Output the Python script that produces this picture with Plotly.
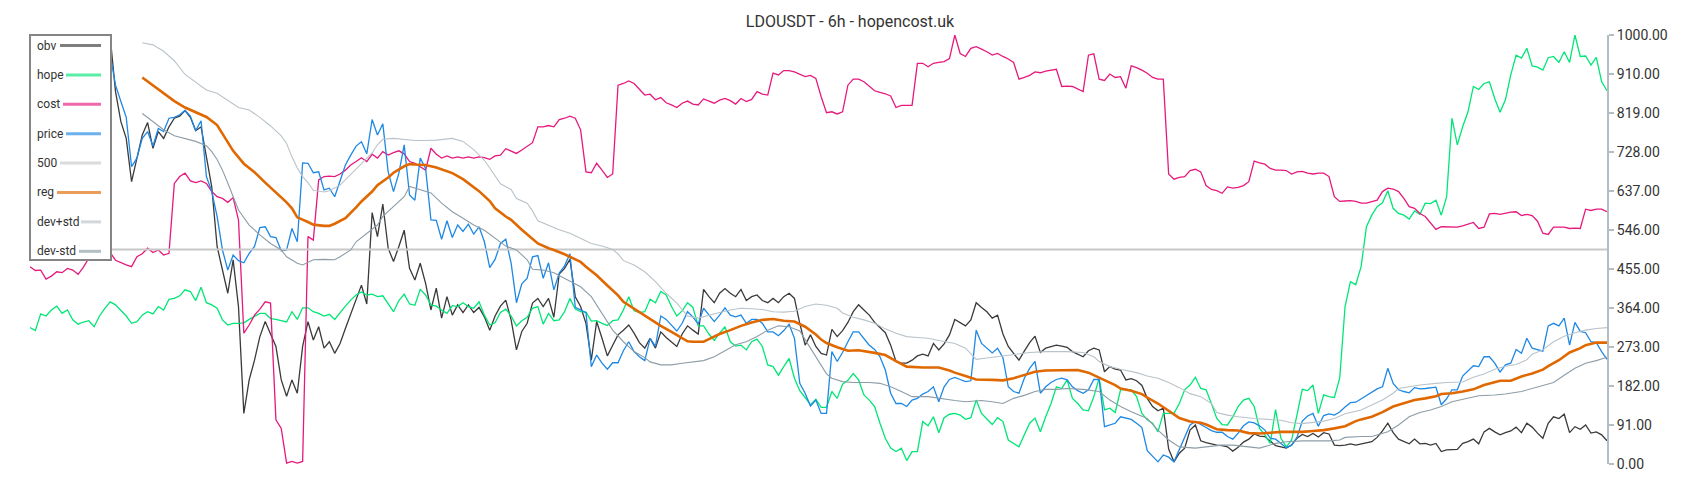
import plotly.graph_objects as go

N = 296
idx = list(range(N))

# ---------------- data ----------------
obv = [
    None, None, None, None, None, None, None, None, None, None,
    None, None, None, None, None, 995, 868, 798, 759, 658,
    713, 767, 796, 736, 775, 759, 786, 806, 811, 824,
    808, 777, 786, 716, 646, 507, 452, 398, 476, 367,
    118, 196, 242, 297, 332, 305, 274, 196, 158, 196,
    165, 274, 332, 289, 320, 270, 285, 258, 281, 316,
    351, 386, 417, 373, 586, 530, 606, 503, 472, 507,
    545, 456, 429, 468, 421, 359, 410, 340, 390, 347,
    371, 353, 371, 353, 365, 343, 312, 345, 368, 382,
    336, 266, 309, 328, 375, 386, 367, 386, 342, 443,
    456, 477, 390, 367, 328, 242, 332, 293, 252, 277,
    301, 312, 324, 305, 283, 270, 293, 270, 308, 295,
    285, 274, 303, 322, 312, 303, 407, 390, 376, 398,
    409, 398, 390, 407, 381, 390, 394, 381, 376, 386,
    376, 390, 398, 386, 328, 277, 301, 274, 258, 254,
    314, 297, 311, 330, 355, 371, 359, 347, 330, 319,
    306, 277, 239, 235, 235, 242, 252, 256, 252, 281,
    266, 280, 301, 337, 330, 322, 336, 376, 365, 355,
    340, 347, 303, 274, 258, 242, 263, 283, 298, 260,
    270, 273, 277, 275, 272, 262, 256, 250, 264, 270,
    266, 215, 227, 221, 219, 196, 199, 194, 183, 153,
    134, 124, 130, 35, 5, 25, 37, 79, 91, 54,
    50, 47, 44, 43, 40, 30, 39, 51, 58, 70,
    65, 64, 54, 43, 40, 37, 44, 60, 69, 64,
    71, 63, 73, 70, 44, 43, 44, 47, 44, 47,
    50, 52, 62, 77, 95, 73, 58, 52, 47, 58,
    47, 48, 44, 48, 29, 33, 34, 34, 48, 52,
    58, 47, 75, 83, 75, 68, 73, 77, 86, 73,
    95, 86, 72, 60, 95, 110, 106, 116, 73, 87,
    81, 91, 72, 75, 68, 54,
]

hope = [
    318, 311, 350, 345, 359, 368, 351, 359, 336, 326,
    331, 334, 320, 345, 363, 378, 371, 359, 345, 328,
    332, 347, 355, 350, 367, 359, 384, 386, 392, 406,
    402, 381, 412, 376, 371, 363, 336, 324, 328, 328,
    329, 337, 345, 351, 351, 339, 337, 334, 331, 355,
    337, 364, 364, 355, 351, 345, 349, 337, 353, 368,
    382, 394, 401, 394, 396, 390, 392, 373, 355, 381,
    396, 373, 370, 407, 394, 371, 368, 359, 351, 369,
    367, 376, 367, 363, 378, 347, 324, 329, 353, 361,
    345, 322, 334, 342, 363, 367, 326, 351, 334, 336,
    355, 386, 361, 355, 354, 333, 334, 328, 323, 334,
    336, 359, 390, 357, 353, 355, 384, 376, 402, 394,
    367, 345, 357, 376, 365, 322, 322, 303, 288, 305,
    320, 285, 275, 277, 266, 285, 291, 274, 231, 227,
    207, 227, 246, 200, 171, 155, 138, 151, 132, 132,
    169, 153, 186, 195, 211, 196, 161, 149, 134, 95,
    60, 37, 29, 37, 8, 29, 29, 99, 89, 110,
    73, 108, 116, 118, 114, 104, 108, 149, 118, 105,
    92, 108, 99, 56, 48, 40, 68, 95, 107, 75,
    110, 141, 180, 176, 196, 153, 141, 126, 124, 157,
    200, 126, 130, 120, 173, 174, 173, 157, 118, 103,
    95, 75, 118, 118, 118, 141, 173, 184, 202, 176,
    173, 141, 106, 92, 91, 110, 134, 149, 153, 134,
    83, 68, 48, 127, 60, 40, 56, 114, 174, 171,
    184, 118, 161, 157, 155, 200, 367, 425, 418, 460,
    553, 580, 600, 609, 637, 596, 584, 580, 571, 590,
    582, 608, 607, 615, 580, 623, 806, 744, 786, 821,
    880, 873, 887, 891, 852, 820, 849, 907, 953, 946,
    969, 928, 925, 918, 947, 950, 936, 961, 936, 1000,
    950, 951, 930, 948, 891, 870,
]

cost = [
    460, 451, 452, 431, 438, 448, 446, 456, 452, 442,
    459, 480, 490, 495, 495, 493, 475, 469, 464, 460,
    483, 490, 503, 493, 499, 487, 491, 654, 670, 678,
    660, 656, 660, 654, 635, 623, 619, 610, 621, 569,
    305, 324, 347, 361, 378, 375, 103, 83, 2, 6,
    2, 6, 530, 522, 662, 670, 671, 670, 676, 685,
    697, 705, 714, 705, 722, 713, 728, 720, 726, 730,
    723, 705, 701, 693, 685, 736, 722, 713, 718, 713,
    716, 713, 716, 713, 716, 714, 710, 718, 720, 735,
    730, 724, 732, 741, 749, 786, 786, 789, 786, 803,
    806, 811, 806, 779, 681, 679, 701, 685, 668, 676,
    883, 887, 893, 887, 873, 860, 862, 849, 854, 842,
    837, 831, 841, 846, 839, 837, 851, 846, 841, 848,
    852, 847, 839, 852, 845, 850, 868, 862, 860, 911,
    907, 917, 917, 914, 909, 903, 906, 899, 856, 819,
    821, 816, 821, 883, 897, 897, 891, 880, 870, 866,
    863, 858, 831, 836, 836, 836, 934, 934, 926, 934,
    936, 938, 945, 1000, 957, 950, 969, 973, 967, 961,
    953, 957, 950, 944, 936, 897, 901, 906, 914, 912,
    916, 918, 920, 880, 881, 880, 874, 868, 953, 956,
    897, 894, 909, 901, 903, 876, 928, 924, 918, 911,
    901, 897, 897, 676, 664, 668, 670, 684, 687, 681,
    649, 640, 637, 631, 646, 643, 645, 649, 658, 706,
    702, 699, 689, 685, 685, 684, 676, 681, 682, 678,
    676, 678, 678, 670, 623, 612, 613, 614, 612, 608,
    608, 611, 615, 635, 643, 641, 635, 619, 600, 596,
    584, 577, 561, 547, 553, 553, 553, 552, 555, 559,
    563, 549, 552, 583, 584, 582, 585, 587, 588, 579,
    582, 579, 566, 538, 535, 552, 552, 552, 549, 550,
    549, 594, 591, 594, 594, 588,
]

price = [
    None, None, None, None, None, None, None, None, None, None,
    None, None, None, None, None, 955, 883, 845, 808, 693,
    713, 759, 775, 741, 782, 775, 806, 808, 814, 824,
    811, 777, 800, 670, 635, 577, 499, 452, 487, 474,
    469, 491, 507, 551, 553, 530, 528, 497, 499, 549,
    518, 702, 701, 679, 681, 639, 643, 623, 658, 697,
    720, 741, 751, 723, 803, 767, 793, 681, 635, 678,
    744, 627, 615, 713, 689, 569, 568, 524, 567, 528,
    557, 542, 559, 536, 553, 518, 458, 477, 514, 524,
    468, 376, 420, 433, 483, 486, 433, 469, 406, 445,
    462, 490, 365, 359, 353, 227, 254, 235, 221, 236,
    236, 264, 285, 262, 250, 241, 293, 274, 345, 337,
    324, 310, 328, 355, 343, 326, 363, 347, 332, 347,
    364, 347, 343, 347, 328, 337, 337, 328, 308, 308,
    299, 311, 326, 293, 188, 165, 135, 149, 118, 118,
    262, 239, 260, 285, 308, 308, 293, 277, 267, 250,
    219, 165, 141, 141, 134, 149, 153, 163, 169, 180,
    145, 180, 197, 202, 197, 192, 194, 312, 281, 270,
    259, 270, 248, 180, 169, 165, 200, 223, 239, 165,
    180, 190, 197, 200, 196, 180, 171, 165, 173, 197,
    197, 87, 91, 95, 110, 107, 104, 95, 85, 31,
    17, 5, 21, 16, 5, 33, 64, 91, 99, 91,
    85, 78, 74, 74, 64, 58, 72, 89, 98, 96,
    89, 79, 60, 58, 47, 38, 44, 62, 100, 112,
    118, 88, 113, 117, 114, 121, 133, 143, 144, 152,
    159, 166, 175, 180, 223, 188, 173, 169, 166, 178,
    175, 176, 178, 179, 138, 152, 173, 173, 205, 218,
    229, 227, 250, 250, 235, 214, 231, 235, 267, 258,
    293, 270, 266, 263, 322, 328, 322, 340, 277, 330,
    309, 306, 285, 283, 262, 244,
]

level_idx = [0, N - 1]
level_val = [500, 500]

reg_idx = [21, 23, 25, 27, 29, 31, 33, 35, 36, 38, 40, 42, 44, 46, 48, 49, 50, 52, 53, 55,
           56, 57, 59, 61, 62, 64, 65, 67, 68, 70, 71, 72, 74, 76, 78, 79, 81, 82, 84, 86,
           87, 89, 90, 92, 94, 95, 97, 98, 100, 101, 103, 104, 106, 108, 110, 111, 113, 115, 116, 118,
           120, 122, 123, 124, 126, 127, 129, 131, 133, 135, 137, 139, 141, 143, 145, 147, 148, 149, 151, 153,
           155, 158, 160, 162, 164, 167, 170, 172, 173, 175, 177, 180, 182, 184, 186, 188, 190, 192, 194, 196,
           198, 200, 201, 203, 204, 206, 208, 209, 211, 213, 214, 215, 217, 219, 220, 222, 224, 226, 228, 230,
           232, 234, 236, 238, 240, 242, 244, 246, 248, 249, 251, 253, 255, 257, 259, 261, 263, 264, 266, 268,
           270, 272, 274, 275, 277, 279, 281, 283, 284, 286, 288, 290, 291, 293, 295]
reg_val = [901, 883, 866, 846, 831, 820, 809, 790, 770, 730, 700, 680, 656, 634, 610, 596, 575, 564, 558, 555,
           555, 560, 573, 598, 612, 635, 650, 668, 679, 694, 699, 698, 697, 691, 683, 678, 664, 655, 636, 613,
           596, 577, 569, 546, 526, 514, 503, 499, 489, 483, 471, 460, 440, 416, 393, 378, 362, 346, 336, 322,
           308, 292, 286, 285, 285, 291, 303, 312, 322, 330, 336, 338, 334, 332, 320, 302, 290, 282, 272, 264,
           265, 259, 254, 240, 227, 225, 225, 218, 213, 205, 197, 196, 195, 200, 208, 215, 218, 218, 219, 219,
           213, 202, 196, 184, 176, 171, 163, 155, 141, 124, 116, 107, 99, 96, 92, 81, 79, 78, 72, 71,
           73, 75, 75, 75, 77, 79, 83, 88, 100, 104, 110, 121, 134, 141, 149, 153, 158, 163, 165, 169,
           174, 184, 190, 194, 194, 204, 211, 220, 228, 242, 260, 270, 277, 283, 283]

devp_idx = [21, 23, 25, 27, 29, 31, 33, 35, 37, 39, 41, 43, 45, 47, 48, 49, 50, 51, 52, 53,
            55, 56, 58, 60, 62, 64, 65, 66, 68, 70, 72, 74, 76, 79, 81, 83, 85, 86, 88, 90,
            91, 93, 94, 95, 97, 99, 101, 103, 105, 107, 109, 110, 111, 113, 115, 117, 119, 121, 123, 125,
            127, 129, 131, 133, 135, 137, 139, 141, 143, 145, 147, 149, 151, 152, 154, 156, 158, 160, 162, 164,
            166, 168, 170, 173, 175, 176, 177, 179, 181, 184, 187, 190, 194, 197, 199, 200, 202, 204, 207, 209,
            211, 213, 215, 217, 219, 221, 222, 224, 226, 229, 231, 234, 236, 238, 240, 242, 244, 246, 249, 251,
            253, 255, 256, 258, 260, 263, 265, 268, 270, 272, 274, 276, 278, 280, 281, 283, 285, 287, 289, 291,
            293, 295]
devp_val = [982, 977, 962, 940, 908, 890, 872, 864, 848, 831, 825, 808, 788, 765, 747, 716, 690, 670, 656, 638,
            634, 637, 650, 675, 701, 725, 744, 757, 759, 757, 754, 754, 755, 759, 752, 733, 708, 690, 653, 640,
            619, 608, 590, 567, 557, 546, 538, 526, 514, 508, 500, 490, 474, 464, 448, 425, 398, 375, 345, 340,
            347, 353, 359, 363, 362, 360, 355, 354, 356, 367, 373, 370, 363, 352, 342, 336, 328, 315, 305, 297,
            295, 293, 288, 281, 270, 258, 244, 247, 250, 255, 260, 262, 262, 260, 250, 239, 227, 221, 213, 205,
            200, 190, 178, 164, 157, 141, 120, 114, 110, 106, 104, 102, 96, 94, 97, 100, 106, 117, 126, 138,
            149, 165, 176, 180, 184, 188, 190, 191, 202, 210, 221, 228, 232, 243, 256, 266, 285, 298, 306, 312,
            316, 318]

devm_idx = [21, 23, 25, 27, 29, 31, 33, 34, 35, 36, 37, 38, 39, 41, 43, 45, 47, 48, 50, 51,
            53, 55, 57, 58, 60, 61, 63, 65, 66, 68, 70, 71, 73, 75, 77, 79, 81, 83, 85, 87,
            89, 91, 93, 94, 96, 98, 100, 101, 103, 105, 107, 109, 111, 113, 115, 116, 118, 120, 122, 124,
            126, 128, 130, 132, 134, 136, 138, 140, 142, 144, 145, 147, 149, 150, 152, 154, 157, 159, 161, 163,
            165, 168, 170, 173, 175, 178, 180, 182, 184, 186, 188, 190, 192, 194, 197, 199, 200, 202, 204, 206,
            209, 211, 213, 215, 218, 220, 223, 225, 228, 230, 233, 235, 238, 243, 245, 246, 249, 251, 254, 256,
            258, 260, 262, 264, 266, 269, 271, 274, 276, 279, 281, 283, 285, 287, 289, 291, 293, 295]
devm_val = [817, 798, 779, 765, 759, 752, 742, 728, 710, 685, 655, 625, 592, 557, 534, 514, 499, 483, 468, 464,
            476, 477, 476, 483, 499, 518, 538, 557, 577, 600, 623, 647, 640, 632, 608, 588, 573, 557, 545, 526,
            508, 499, 476, 454, 452, 446, 433, 427, 413, 390, 351, 312, 285, 262, 248, 238, 231, 231, 235, 238,
            241, 250, 264, 278, 285, 297, 312, 322, 320, 310, 290, 250, 210, 200, 192, 190, 190, 188, 180, 169,
            157, 157, 153, 148, 145, 148, 145, 141, 153, 160, 169, 174, 174, 176, 174, 171, 169, 149, 134, 122,
            106, 79, 56, 40, 37, 40, 44, 44, 40, 37, 48, 52, 54, 54, 56, 62, 64, 64, 75, 91,
            110, 120, 126, 134, 145, 153, 159, 161, 163, 169, 176, 182, 190, 207, 223, 235, 241, 249]

tick_vals = [0, 91, 182, 273, 364, 455, 546, 637, 728, 819, 910, 1000]
tick_text = ["0.00", "91.00", "182.00", "273.00", "364.00", "455.00", "546.00",
             "637.00", "728.00", "819.00", "910.00", "1000.00"]

# ---------------- styling ----------------
names = ["obv", "hope", "cost", "price", "500", "reg", "dev+std", "dev-std"]
colors = {
    "obv": "#3a3a3a",
    "hope": "#00E676",
    "cost": "#E6197D",
    "price": "#1E88E5",
    "500": "#C8C8C8",
    "reg": "#E06800",
    "dev+std": "#B9C3C9",
    "dev-std": "#8D9DA7",
}
widths = {"obv": 1.3, "hope": 1.3, "cost": 1.3, "price": 1.3, "500": 2,
          "reg": 2.6, "dev+std": 1.1, "dev-std": 1.1}

series = {
    "obv": (idx, obv),
    "hope": (idx, hope),
    "cost": (idx, cost),
    "price": (idx, price),
    "500": (level_idx, level_val),
    "reg": (reg_idx, reg_val),
    "dev+std": (devp_idx, devp_val),
    "dev-std": (devm_idx, devm_val),
}

fig = go.Figure()
for nm in names:
    xs, ys = series[nm]
    fig.add_trace(go.Scatter(
        x=xs, y=ys, name=nm, mode="lines",
        line=dict(color=colors[nm], width=widths[nm]),
        hoverinfo="skip", showlegend=False,
    ))

# plot-area geometry in pixels (layout only)
L, R, T, B = 30, 1607, 35, 464
W, H = R - L, B - T


def px_x(p):
    return (p - L) / W


def px_y(p):
    return (B - p) / H


shapes = [dict(type="rect", xref="paper", yref="paper",
               x0=px_x(30), x1=px_x(111), y0=px_y(260), y1=px_y(35),
               fillcolor="white", line=dict(color="#858585", width=2), layer="above")]
annotations = []
sample_start = {"obv": 60, "hope": 66, "cost": 63, "price": 66, "500": 60,
                "reg": 57, "dev+std": 81, "dev-std": 79}
for k, nm in enumerate(names):
    yy = 45.5 + 29.4 * k
    annotations.append(dict(text=nm, xref="paper", yref="paper", x=px_x(35), y=px_y(yy),
                            xanchor="left", yanchor="middle", showarrow=False,
                            font=dict(size=12, color="#333333", family="Roboto")))
    shapes.append(dict(type="line", xref="paper", yref="paper",
                       x0=px_x(sample_start[nm]), x1=px_x(101), y0=px_y(yy), y1=px_y(yy),
                       line=dict(color=colors[nm], width=3), opacity=0.65, layer="above"))

fig.update_layout(
    width=1700, height=500, autosize=False,
    margin=dict(l=L, r=1700 - R, t=T, b=500 - B, pad=0),
    paper_bgcolor="white", plot_bgcolor="white",
    font=dict(family="Roboto", color="#333333"),
    title=dict(text="LDOUSDT - 6h - hopencost.uk", x=0.5, xref="container", xanchor="center",
               y=1 - 21 / 500, yref="container", yanchor="middle",
               font=dict(size=16, color="#333333", family="Roboto")),
    showlegend=False,
    shapes=shapes,
    annotations=annotations,
    xaxis=dict(visible=False, range=[0, N - 1]),
    yaxis=dict(side="right", range=[0, 1000], showgrid=False, zeroline=False,
               showline=True, linecolor="#B3BEC4", linewidth=2,
               ticks="outside", ticklen=5, tickcolor="#B3BEC4", tickwidth=2,
               tickvals=tick_vals, ticktext=tick_text,
               tickfont=dict(size=14, color="#333333", family="Roboto")),
)

fig.write_html("out.html", config={"displayModeBar": False},
               post_script="document.body.style.margin='0';")
